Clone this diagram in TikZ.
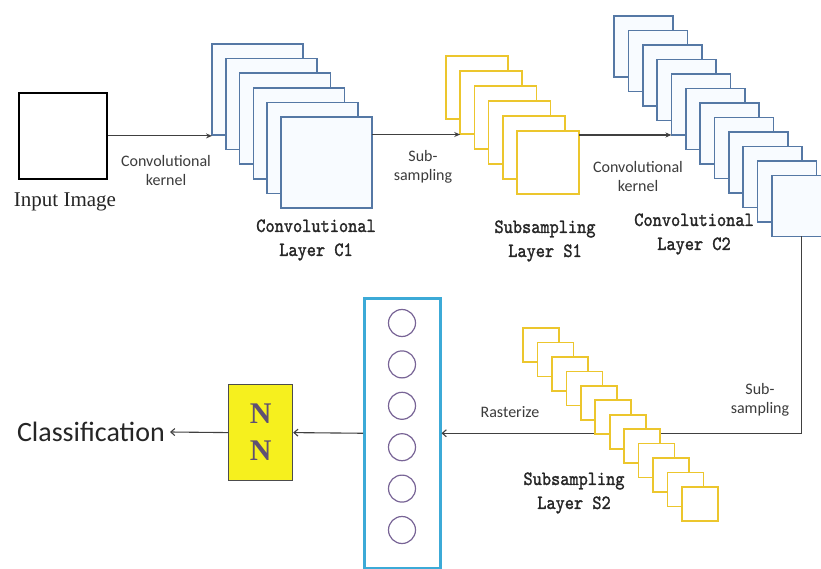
\documentclass[tikz,border=0pt]{standalone}
\usepackage{fontspec}
\usepackage{graphicx}
\usetikzlibrary{arrows.meta}
\newfontfamily\calib{Carlito}
\newfontfamily\monob[FakeBold=1.6]{lmmono10-regular.otf}
\newfontfamily\serifl{Liberation Serif}
\definecolor{c1blue}{RGB}{85,120,165}
\definecolor{sqfill}{RGB}{248,251,255}
\definecolor{yel}{RGB}{236,198,45}
\definecolor{fcblue}{RGB}{60,170,215}
\definecolor{circ}{RGB}{120,100,150}
\definecolor{nnyel}{RGB}{246,240,30}
\definecolor{nntext}{RGB}{95,80,115}
\definecolor{txtgray}{RGB}{60,60,60}
\newcommand{\tallt}[1]{\scalebox{1}[1.15]{#1}}
\begin{document}
\begin{tikzpicture}[x=1pt,y=-1pt,
  bluesq/.style={draw=c1blue, line width=1.7pt, fill=sqfill, anchor=north west, inner sep=0pt, outer sep=0pt},
  yelsq/.style={draw=yel, line width=1.6pt, fill=white, anchor=north west, inner sep=0pt, outer sep=0pt},
  smalllab/.style={font=\calib\fontsize{16}{19}\selectfont, text=txtgray, align=center, inner sep=1pt},
  layerlab/.style={font=\monob\fontsize{17.5}{24}\selectfont, text=black!85, align=center, inner sep=1pt},
  toparrow/.style={draw=black!75, line width=1.1pt, -{Stealth[length=6pt,width=5pt]}},
  botarrow/.style={draw=black!75, line width=1.1pt, -{Straight Barb[length=4pt,width=7pt]}},
  neuron/.style={circle, draw=circ, line width=1.2pt, minimum size=27pt, inner sep=0pt}
]
\useasboundingbox (0,0) rectangle (821,569);
\clip (0,0) rectangle (821,569);
\fill[white] (0,0) rectangle (821,569);

% input image
\node[draw, line width=1.8pt, minimum width=88pt, minimum height=86pt, anchor=north west, inner sep=0pt] (input) at (18,92) {};
\node[font=\serifl\fontsize{21}{24}\selectfont, text=black!85] (inputlab) at (65,202) {Input Image};

% C1 stack
\foreach \i in {0,...,5}
  \node[bluesq, minimum width=91pt, minimum height=91pt] (c1-\i) at ({212+13.8*\i},{44+14.6*\i}) {};

% S1 stack
\foreach \i in {0,...,5}
  \node[yelsq, minimum width=62pt, minimum height=63pt] (s1-\i) at ({446+14.2*\i},{56+15*\i}) {};

% C2 stack
\foreach \i in {0,...,11}
  \node[bluesq, minimum width=59pt, minimum height=61pt] (c2-\i) at ({614+14.36*\i},{16+14.5*\i}) {};

% fully connected column
\node[draw=fcblue, line width=2.5pt, fill=white, minimum width=76pt, minimum height=270pt, anchor=north west, inner sep=0pt] (fc) at (363,297) {};
\foreach \i in {0,...,5}
  \node[neuron] (n\i) at (402,{323+41.4*\i}) {};

% NN box
\node[draw=black!70, line width=1.2pt, fill=nnyel, minimum width=64pt, minimum height=96pt, anchor=north west, inner sep=0pt] (nn) at (228,384) {};
\node[font=\serifl\bfseries\fontsize{30}{37}\selectfont, text=nntext, align=center] (nntxt) at (nn.center) {N\\N};

\node[font=\calib\fontsize{28}{30}\selectfont, text=black!85, anchor=east, inner sep=5pt] (cls) at (170,432) {Classification};

% connectors (behind S2)
\coordinate (a1) at ([yshift=-17.5pt]c1-5.north east);
\coordinate (a2) at ([yshift=-4pt]s1-5.north east);
\draw[botarrow] (c2-11.south) |- (fc.east);
\draw[toparrow] (input.east) -- (c1-0.west |- input.east);
\draw[toparrow] (a1) -- (a1 -| s1-1.west);
\draw[toparrow] (a2) -- (a2 -| c2-4.west);
\draw[botarrow] (fc.west) -- (nn.east);
\draw[botarrow] (nn.west) -- (cls.east);

% S2 stack
\foreach \i in {0,...,11}
  \node[yelsq, minimum width=36pt, minimum height=34pt] (s2-\i) at ({523+14.45*\i},{328+14.45*\i}) {};

% labels
\node[smalllab] (k1) at (166,170.5) {Convolutional\\kernel};
\node[smalllab] (ss1) at (423,166.5) {Sub-\\sampling};
\node[smalllab] (k2) at (638,177) {Convolutional\\kernel};
\node[smalllab] (ss2) at (760,400) {Sub-\\sampling};
\node[smalllab] (rast) at (510,412) {Rasterize};

\node[layerlab] (c1lab) at (316,240) {\tallt{Convolutional}\\\tallt{Layer C1}};
\node[layerlab] (s1lab) at (545,241) {\tallt{Subsampling}\\\tallt{Layer S1}};
\node[layerlab] (c2lab) at (694,234) {\tallt{Convolutional}\\\tallt{Layer C2}};
\node[layerlab] (s2lab) at (574,493) {\tallt{Subsampling}\\\tallt{Layer S2}};
\end{tikzpicture}
\end{document}
